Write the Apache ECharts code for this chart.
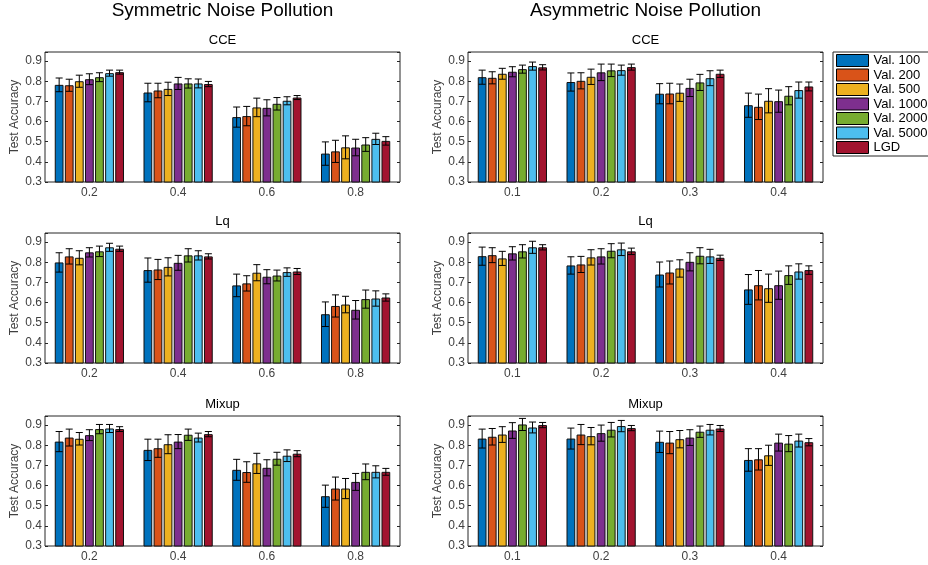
<!DOCTYPE html>
<html>
<head>
<meta charset="utf-8">
<script src="https://cdn.jsdelivr.net/npm/echarts@6/dist/echarts.min.js"></script>
<style>
  html, body { margin: 0; padding: 0; background: #fff; }
  #main { width: 928px; height: 565px; }
</style>
</head>
<body>
<div id="main"></div>
<script>
// noise rates
var symCats = ['0.2', '0.4', '0.6', '0.8'];
var asymCats = ['0.1', '0.2', '0.3', '0.4'];
var seriesNames = ['Val. 100', 'Val. 200', 'Val. 500', 'Val. 1000', 'Val. 2000', 'Val. 5000', 'LGD'];
var colors = ['#0072BD', '#D95319', '#EDB120', '#7E2F8E', '#77AC30', '#4DBEEE', '#A2142F'];
var yTicks = [0.3, 0.4, 0.5, 0.6, 0.7, 0.8, 0.9];

// one row per noise rate, one value per series
var symCCE = [
    [0.782, 0.78, 0.80, 0.81, 0.82, 0.84, 0.845],
    [0.744, 0.754, 0.762, 0.789, 0.789, 0.789, 0.786],
    [0.622, 0.627, 0.67, 0.668, 0.688, 0.703, 0.719],
    [0.441, 0.452, 0.472, 0.471, 0.486, 0.514, 0.504]
];
var symCCEErr = [
    [0.034, 0.03, 0.03, 0.027, 0.022, 0.015, 0.01],
    [0.046, 0.036, 0.033, 0.03, 0.023, 0.022, 0.013],
    [0.05, 0.048, 0.046, 0.04, 0.031, 0.02, 0.01],
    [0.058, 0.055, 0.057, 0.041, 0.034, 0.028, 0.021]
];
var asymCCE = [
    [0.82, 0.817, 0.837, 0.847, 0.86, 0.875, 0.869],
    [0.796, 0.802, 0.822, 0.844, 0.854, 0.855, 0.87],
    [0.738, 0.739, 0.743, 0.767, 0.794, 0.815, 0.837],
    [0.681, 0.673, 0.703, 0.701, 0.728, 0.756, 0.774]
];
var asymCCEErr = [
    [0.035, 0.03, 0.027, 0.025, 0.02, 0.02, 0.013],
    [0.045, 0.04, 0.038, 0.041, 0.031, 0.025, 0.015],
    [0.05, 0.051, 0.043, 0.043, 0.04, 0.037, 0.018],
    [0.06, 0.063, 0.06, 0.055, 0.045, 0.04, 0.022]
];
var symLq = [
    [0.799, 0.829, 0.822, 0.849, 0.854, 0.874, 0.867],
    [0.761, 0.764, 0.777, 0.797, 0.834, 0.834, 0.829],
    [0.685, 0.695, 0.748, 0.728, 0.734, 0.751, 0.754],
    [0.542, 0.583, 0.59, 0.564, 0.617, 0.62, 0.625]
];
var symLqErr = [
    [0.048, 0.038, 0.035, 0.023, 0.026, 0.02, 0.013],
    [0.06, 0.05, 0.045, 0.037, 0.033, 0.023, 0.013],
    [0.056, 0.038, 0.04, 0.035, 0.027, 0.021, 0.015],
    [0.061, 0.055, 0.041, 0.046, 0.045, 0.038, 0.018]
];
var asymLq = [
    [0.83, 0.835, 0.819, 0.844, 0.854, 0.874, 0.874],
    [0.784, 0.789, 0.824, 0.829, 0.857, 0.864, 0.854],
    [0.739, 0.749, 0.769, 0.802, 0.832, 0.829, 0.822],
    [0.665, 0.686, 0.671, 0.686, 0.736, 0.754, 0.761]
];
var asymLqErr = [
    [0.045, 0.037, 0.035, 0.033, 0.033, 0.03, 0.013],
    [0.043, 0.04, 0.038, 0.038, 0.035, 0.031, 0.016],
    [0.062, 0.057, 0.043, 0.045, 0.04, 0.035, 0.013],
    [0.074, 0.073, 0.07, 0.07, 0.046, 0.038, 0.021]
];
var symMix = [
    [0.818, 0.838, 0.832, 0.85, 0.88, 0.883, 0.88],
    [0.777, 0.785, 0.805, 0.818, 0.852, 0.838, 0.855],
    [0.678, 0.667, 0.71, 0.688, 0.733, 0.748, 0.758],
    [0.547, 0.585, 0.585, 0.618, 0.668, 0.668, 0.668]
];
var symMixErr = [
    [0.05, 0.042, 0.031, 0.027, 0.023, 0.02, 0.012],
    [0.053, 0.045, 0.047, 0.035, 0.028, 0.022, 0.013],
    [0.052, 0.051, 0.05, 0.04, 0.032, 0.029, 0.015],
    [0.055, 0.057, 0.05, 0.042, 0.039, 0.03, 0.017]
];
var asymMix = [
    [0.833, 0.842, 0.853, 0.873, 0.903, 0.888, 0.90],
    [0.833, 0.853, 0.845, 0.86, 0.877, 0.895, 0.885],
    [0.817, 0.813, 0.83, 0.838, 0.867, 0.877, 0.883],
    [0.727, 0.73, 0.75, 0.813, 0.808, 0.823, 0.815]
];
var asymMixErr = [
    [0.047, 0.041, 0.039, 0.039, 0.03, 0.027, 0.013],
    [0.052, 0.05, 0.043, 0.04, 0.036, 0.028, 0.013],
    [0.053, 0.055, 0.043, 0.039, 0.028, 0.026, 0.015],
    [0.056, 0.053, 0.05, 0.042, 0.04, 0.032, 0.018]
];

var panels = [
    {title: 'CCE', cats: symCats, mean: symCCE, err: symCCEErr},
    {title: 'CCE', cats: asymCats, mean: asymCCE, err: asymCCEErr},
    {title: 'Lq', cats: symCats, mean: symLq, err: symLqErr},
    {title: 'Lq', cats: asymCats, mean: asymLq, err: asymLqErr},
    {title: 'Mixup', cats: symCats, mean: symMix, err: symMixErr},
    {title: 'Mixup', cats: asymCats, mean: asymMix, err: asymMixErr}
];

var FONT = '"Liberation Sans", Arial, sans-serif';
var lefts = [45, 468];
var tops = [52, 233, 416];
var W = 355, H = 130;
var CAT_GAP = 0.22, BAR_GAP = 0.15;
var nSer = seriesNames.length;

var grids = [], xAxes = [], yAxes = [], series = [], graphics = [];

graphics.push({type: 'text', x: 222.5, y: 11, style: {text: 'Symmetric Noise Pollution', font: '19px ' + FONT, fill: '#000', align: 'center', verticalAlign: 'middle'}});
graphics.push({type: 'text', x: 645.5, y: 11, style: {text: 'Asymmetric Noise Pollution', font: '19px ' + FONT, fill: '#000', align: 'center', verticalAlign: 'middle'}});

panels.forEach(function (p, i) {
    var col = i % 2, row = Math.floor(i / 2);
    grids.push({left: lefts[col], top: tops[row], width: W, height: H,
        show: true, borderColor: '#262626', borderWidth: 1, backgroundColor: '#fff'});
    graphics.push({type: 'text', x: lefts[col] + W / 2, y: tops[row] - 12,
        style: {text: p.title, font: '13px ' + FONT, fill: '#000', align: 'center', verticalAlign: 'middle'}});

    xAxes.push({type: 'category', gridIndex: i, data: p.cats,
        axisLine: {show: false}, axisTick: {show: false},
        axisLabel: {margin: 5, fontSize: 12, fontFamily: FONT, color: '#404040'}});

    var yBase = {type: 'value', gridIndex: i, min: 0.3, max: 0.945, interval: 0.1,
        axisLine: {show: false}, splitLine: {show: false},
        axisTick: {show: true, inside: true, length: 3, lineStyle: {color: '#262626'}}};
    yAxes.push(Object.assign({}, yBase, {
        position: 'left',
        name: 'Test Accuracy', nameLocation: 'middle', nameGap: 24, nameRotate: 90,
        nameTextStyle: {fontSize: 12, fontFamily: FONT, color: '#404040'},
        axisLabel: {margin: 3, fontSize: 12, fontFamily: FONT, color: '#404040',
            formatter: function (v) {
                for (var t = 0; t < yTicks.length; t++) {
                    if (Math.abs(v - yTicks[t]) < 1e-6) return yTicks[t].toFixed(1);
                }
                return '';
            }}
    }));
    yAxes.push(Object.assign({}, yBase, {position: 'right', axisLabel: {show: false}}));

    for (var k = 0; k < nSer; k++) {
        series.push({
            name: seriesNames[k], type: 'bar', xAxisIndex: i, yAxisIndex: 2 * i,
            barGap: (BAR_GAP * 100) + '%', barCategoryGap: (CAT_GAP * 100) + '%',
            itemStyle: {color: colors[k], borderColor: '#111', borderWidth: 1},
            data: p.mean.map(function (r) { return r[k]; })
        });
    }

    var errData = [];
    p.mean.forEach(function (r, c) {
        r.forEach(function (m, k) {
            errData.push([c, k, m - p.err[c][k], m + p.err[c][k]]);
        });
    });
    series.push({
        type: 'custom', xAxisIndex: i, yAxisIndex: 2 * i, z: 5, silent: true,
        encode: {x: 0, y: [2, 3]},
        data: errData,
        renderItem: function (params, api) {
            var c = api.value(0), k = api.value(1);
            var band = api.size([1, 0])[0];
            var w = band * (1 - CAT_GAP) / (nSer + (nSer - 1) * BAR_GAP);
            var total = nSer * w + (nSer - 1) * BAR_GAP * w;
            var x = api.coord([c, 0.5])[0] - total / 2 + k * w * (1 + BAR_GAP) + w / 2;
            var lo = api.coord([c, api.value(2)])[1];
            var hi = api.coord([c, api.value(3)])[1];
            var cap = w * 0.4;
            var st = {stroke: '#000', lineWidth: 1};
            return {type: 'group', children: [
                {type: 'line', shape: {x1: x, y1: lo, x2: x, y2: hi}, style: st},
                {type: 'line', shape: {x1: x - cap, y1: lo, x2: x + cap, y2: lo}, style: st},
                {type: 'line', shape: {x1: x - cap, y1: hi, x2: x + cap, y2: hi}, style: st}
            ]};
        }
    });
});

var myChart = echarts.init(document.getElementById('main'));
var option = {
    backgroundColor: '#fff',
    animation: false,
    textStyle: {fontFamily: FONT},
    legend: {
        data: seriesNames, orient: 'vertical', left: 833, top: 52,
        padding: [2, 6, 2, 3], itemWidth: 32, itemHeight: 12, itemGap: 1.5,
        borderColor: '#262626', borderWidth: 1, backgroundColor: '#fff',
        icon: 'rect',
        itemStyle: {borderColor: '#000', borderWidth: 1},
        textStyle: {fontSize: 13, fontFamily: FONT, color: '#000'}
    },
    grid: grids,
    xAxis: xAxes,
    yAxis: yAxes,
    series: series,
    graphic: graphics
};
myChart.setOption(option);
</script>
</body>
</html>
